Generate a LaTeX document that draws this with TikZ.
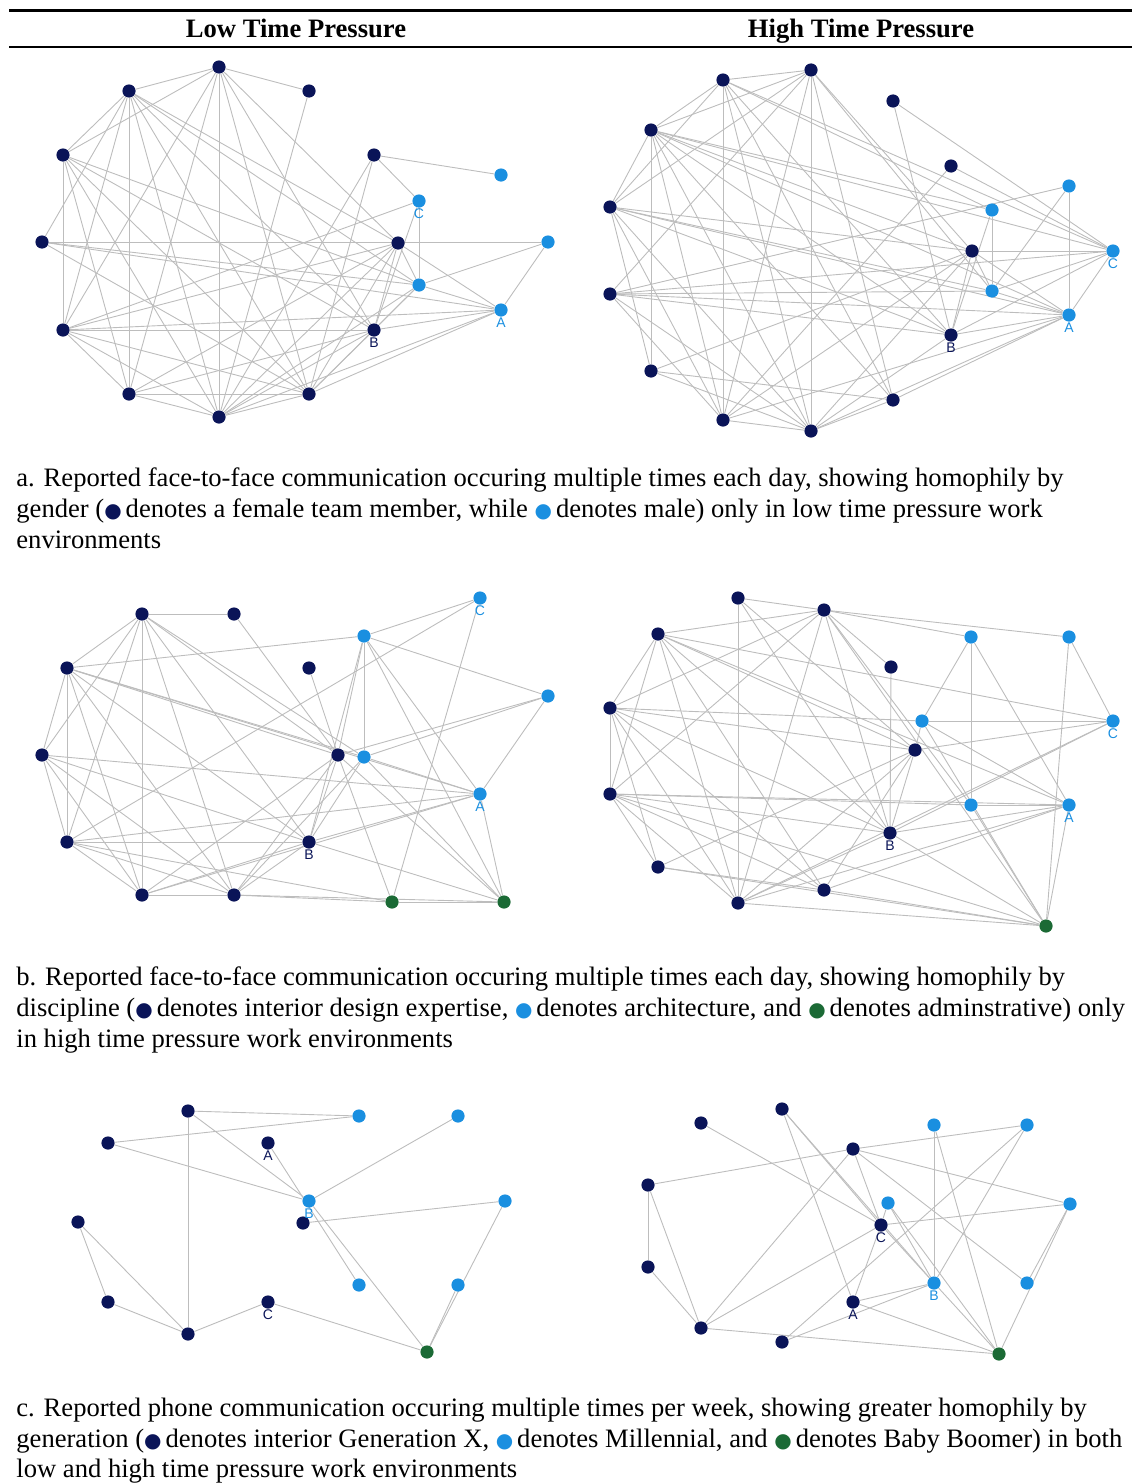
\documentclass[tikz,border=0pt]{standalone}
\usepackage{fontspec}
\setmainfont{Liberation Serif}
\newfontfamily\tagfont{Liberation Sans}
\newfontfamily\symfont{DejaVu Sans}
\usepackage{xcolor}
\usetikzlibrary{backgrounds}
\definecolor{navyc}{HTML}{0A1458}
\definecolor{skyc}{HTML}{1A8FE0}
\definecolor{greenc}{HTML}{1B6A35}
\definecolor{edgec}{HTML}{BDBDBD}
\newcommand{\dotmark}[1]{\makebox[7.4pt][l]{\textcolor{#1}{\symfont\fontsize{10}{10}\selectfont ●}}}
\tikzset{
  dnavy/.style={circle, fill=navyc, minimum size=6.6pt, inner sep=0pt},
  dsky/.style={circle, fill=skyc, minimum size=6.6pt, inner sep=0pt},
  dgreen/.style={circle, fill=greenc, minimum size=6.6pt, inner sep=0pt},
  dedge/.style={draw=edgec, line width=0.45pt},
  dtag/.style={font=\tagfont\fontsize{7}{7}\selectfont, inner sep=0.4pt},
  tagn/.style={label distance=0.4pt, label={[dtag, text=navyc]below:#1}},
  tags/.style={label distance=0.4pt, label={[dtag, text=skyc]below:#1}},
  dhead/.style={anchor=base, font=\bfseries\fontsize{13.3}{15}\selectfont, inner sep=0pt},
  dcap/.style={anchor=base west, inner sep=0pt, font=\fontsize{13.3}{15.5}\selectfont},
  drule/.style={line width=1.5pt},
  druleth/.style={line width=0.6pt}
}
\begin{document}
\begin{tikzpicture}[x=0.5pt,y=-0.5pt]
\useasboundingbox (0,0) rectangle (1132,1483);
% header
\draw[drule] (9,10) -- (1132,10);
\draw[druleth] (9,47) -- (1132,47);
\node[dhead] (lowhead) at (296,38) {Low Time Pressure};
\node[dhead] (highhead) at (861,38) {High Time Pressure};

% a, low
\node[dnavy] (aL-t) at (219,67) {};
\node[dnavy] (aL-ul) at (129,91) {};
\node[dnavy] (aL-ur) at (309,91) {};
\node[dnavy] (aL-l1) at (63,155) {};
\node[dnavy] (aL-r1) at (374,155) {};
\node[dsky] (aL-s6) at (501,175) {};
\node[dsky, tags=C] (aL-c) at (419,201) {};
\node[dnavy] (aL-l2) at (42,242) {};
\node[dnavy] (aL-m) at (398,243) {};
\node[dsky] (aL-s10) at (548,242) {};
\node[dsky] (aL-s11) at (419,285) {};
\node[dsky, tags=A] (aL-a) at (501,310) {};
\node[dnavy] (aL-l3) at (63,330) {};
\node[dnavy, tagn=B] (aL-b) at (374,330) {};
\node[dnavy] (aL-bl) at (129,394) {};
\node[dnavy] (aL-br) at (309,394) {};
\node[dnavy] (aL-bot) at (219,417) {};
\begin{scope}[on background layer]
\draw[dedge] (aL-t) -- (aL-ul);
\draw[dedge] (aL-t) -- (aL-ur);
\draw[dedge] (aL-t) -- (aL-l1);
\draw[dedge] (aL-t) -- (aL-l3);
\draw[dedge] (aL-t) -- (aL-bl);
\draw[dedge] (aL-t) -- (aL-bot);
\draw[dedge] (aL-t) -- (aL-br);
\draw[dedge] (aL-t) -- (aL-b);
\draw[dedge] (aL-t) -- (aL-m);
\draw[dedge] (aL-ur) -- (aL-bot);
\draw[dedge] (aL-ul) -- (aL-l1);
\draw[dedge] (aL-ul) -- (aL-l2);
\draw[dedge] (aL-ul) -- (aL-l3);
\draw[dedge] (aL-ul) -- (aL-bl);
\draw[dedge] (aL-ul) -- (aL-bot);
\draw[dedge] (aL-ul) -- (aL-br);
\draw[dedge] (aL-ul) -- (aL-b);
\draw[dedge] (aL-ul) -- (aL-m);
\draw[dedge] (aL-ul) -- (aL-s11);
\draw[dedge] (aL-l1) -- (aL-l3);
\draw[dedge] (aL-l1) -- (aL-bl);
\draw[dedge] (aL-l1) -- (aL-bot);
\draw[dedge] (aL-l1) -- (aL-br);
\draw[dedge] (aL-l1) -- (aL-b);
\draw[dedge] (aL-l1) -- (aL-s11);
\draw[dedge] (aL-l2) -- (aL-s10);
\draw[dedge] (aL-l2) -- (aL-s11);
\draw[dedge] (aL-l2) -- (aL-a);
\draw[dedge] (aL-l2) -- (aL-br);
\draw[dedge] (aL-l3) -- (aL-b);
\draw[dedge] (aL-l3) -- (aL-a);
\draw[dedge] (aL-l3) -- (aL-m);
\draw[dedge] (aL-l3) -- (aL-c);
\draw[dedge] (aL-l3) -- (aL-bl);
\draw[dedge] (aL-l3) -- (aL-bot);
\draw[dedge] (aL-l3) -- (aL-br);
\draw[dedge] (aL-bl) -- (aL-br);
\draw[dedge] (aL-bl) -- (aL-bot);
\draw[dedge] (aL-bl) -- (aL-m);
\draw[dedge] (aL-bl) -- (aL-b);
\draw[dedge] (aL-r1) -- (aL-bot);
\draw[dedge] (aL-r1) -- (aL-br);
\draw[dedge] (aL-r1) -- (aL-s6);
\draw[dedge] (aL-r1) -- (aL-c);
\draw[dedge] (aL-bot) -- (aL-br);
\draw[dedge] (aL-bot) -- (aL-m);
\draw[dedge] (aL-bot) -- (aL-s11);
\draw[dedge] (aL-bot) -- (aL-b);
\draw[dedge] (aL-bot) -- (aL-a);
\draw[dedge] (aL-br) -- (aL-m);
\draw[dedge] (aL-br) -- (aL-b);
\draw[dedge] (aL-br) -- (aL-a);
\draw[dedge] (aL-br) -- (aL-s11);
\draw[dedge] (aL-c) -- (aL-s11);
\draw[dedge] (aL-c) -- (aL-b);
\draw[dedge] (aL-m) -- (aL-a);
\draw[dedge] (aL-m) -- (aL-s11);
\draw[dedge] (aL-m) -- (aL-b);
\draw[dedge] (aL-s10) -- (aL-a);
\draw[dedge] (aL-s10) -- (aL-s11);
\draw[dedge] (aL-s11) -- (aL-a);
\draw[dedge] (aL-s11) -- (aL-b);
\draw[dedge] (aL-a) -- (aL-b);
\end{scope}

% a, high
\node[dnavy] (aR-n1) at (723,80) {};
\node[dnavy] (aR-n2) at (811,70) {};
\node[dnavy] (aR-n3) at (893,101) {};
\node[dnavy] (aR-n4) at (651,130) {};
\node[dnavy] (aR-n5) at (951,166) {};
\node[dsky] (aR-s1) at (1069,186) {};
\node[dsky] (aR-s2) at (992,210) {};
\node[dnavy] (aR-n6) at (610,207) {};
\node[dnavy] (aR-n7) at (972,251) {};
\node[dsky, tags=C] (aR-c) at (1113,251) {};
\node[dsky] (aR-s3) at (992,291) {};
\node[dnavy] (aR-n8) at (610,294) {};
\node[dsky, tags=A] (aR-a) at (1069,315) {};
\node[dnavy, tagn=B] (aR-b) at (951,335) {};
\node[dnavy] (aR-n9) at (651,371) {};
\node[dnavy] (aR-n10) at (893,400) {};
\node[dnavy] (aR-n11) at (723,420) {};
\node[dnavy] (aR-n12) at (811,431) {};
\begin{scope}[on background layer]
\draw[dedge] (aR-n1) -- (aR-n2);
\draw[dedge] (aR-n1) -- (aR-n4);
\draw[dedge] (aR-n1) -- (aR-n6);
\draw[dedge] (aR-n1) -- (aR-n11);
\draw[dedge] (aR-n1) -- (aR-c);
\draw[dedge] (aR-n1) -- (aR-b);
\draw[dedge] (aR-n1) -- (aR-n10);
\draw[dedge] (aR-n1) -- (aR-n12);
\draw[dedge] (aR-n1) -- (aR-s2);
\draw[dedge] (aR-n2) -- (aR-n4);
\draw[dedge] (aR-n2) -- (aR-n6);
\draw[dedge] (aR-n2) -- (aR-n8);
\draw[dedge] (aR-n2) -- (aR-n12);
\draw[dedge] (aR-n2) -- (aR-n11);
\draw[dedge] (aR-n2) -- (aR-n10);
\draw[dedge] (aR-n2) -- (aR-n7);
\draw[dedge] (aR-n2) -- (aR-s3);
\draw[dedge] (aR-n3) -- (aR-b);
\draw[dedge] (aR-n3) -- (aR-c);
\draw[dedge] (aR-n4) -- (aR-n6);
\draw[dedge] (aR-n4) -- (aR-n9);
\draw[dedge] (aR-n4) -- (aR-s2);
\draw[dedge] (aR-n4) -- (aR-c);
\draw[dedge] (aR-n4) -- (aR-b);
\draw[dedge] (aR-n4) -- (aR-n7);
\draw[dedge] (aR-n4) -- (aR-n10);
\draw[dedge] (aR-n4) -- (aR-n11);
\draw[dedge] (aR-n4) -- (aR-n12);
\draw[dedge] (aR-n4) -- (aR-a);
\draw[dedge] (aR-n5) -- (aR-c);
\draw[dedge] (aR-n5) -- (aR-n11);
\draw[dedge] (aR-n6) -- (aR-n9);
\draw[dedge] (aR-n6) -- (aR-a);
\draw[dedge] (aR-n6) -- (aR-b);
\draw[dedge] (aR-n6) -- (aR-n7);
\draw[dedge] (aR-n6) -- (aR-s3);
\draw[dedge] (aR-n6) -- (aR-n11);
\draw[dedge] (aR-n6) -- (aR-n12);
\draw[dedge] (aR-n7) -- (aR-c);
\draw[dedge] (aR-n7) -- (aR-s3);
\draw[dedge] (aR-n7) -- (aR-a);
\draw[dedge] (aR-n7) -- (aR-b);
\draw[dedge] (aR-n7) -- (aR-n11);
\draw[dedge] (aR-n7) -- (aR-n12);
\draw[dedge] (aR-n7) -- (aR-n9);
\draw[dedge] (aR-s1) -- (aR-a);
\draw[dedge] (aR-s1) -- (aR-s3);
\draw[dedge] (aR-s1) -- (aR-n8);
\draw[dedge] (aR-s2) -- (aR-s3);
\draw[dedge] (aR-s2) -- (aR-b);
\draw[dedge] (aR-c) -- (aR-s3);
\draw[dedge] (aR-c) -- (aR-a);
\draw[dedge] (aR-c) -- (aR-b);
\draw[dedge] (aR-c) -- (aR-n8);
\draw[dedge] (aR-s3) -- (aR-a);
\draw[dedge] (aR-s3) -- (aR-n8);
\draw[dedge] (aR-a) -- (aR-b);
\draw[dedge] (aR-a) -- (aR-n10);
\draw[dedge] (aR-a) -- (aR-n11);
\draw[dedge] (aR-a) -- (aR-n12);
\draw[dedge] (aR-a) -- (aR-n8);
\draw[dedge] (aR-b) -- (aR-n8);
\draw[dedge] (aR-b) -- (aR-n12);
\draw[dedge] (aR-n9) -- (aR-n10);
\draw[dedge] (aR-n9) -- (aR-n12);
\draw[dedge] (aR-n10) -- (aR-n12);
\draw[dedge] (aR-n11) -- (aR-n12);
\draw[dedge] (aR-n11) -- (aR-n8);
\draw[dedge] (aR-n12) -- (aR-n8);
\end{scope}

\node[dcap] (capA1) at (16,486) {a. Reported face-to-face communication occuring multiple times each day, showing homophily by};
\node[dcap] (capA2) at (16,517) {gender (\dotmark{navyc} denotes a female team member, while \dotmark{skyc} denotes male) only in low time pressure work};
\node[dcap] (capA3) at (16,548) {environments};

% b, low
\node[dnavy] (bL-k1) at (142,614) {};
\node[dnavy] (bL-k2) at (234,614) {};
\node[dsky, tags=C] (bL-c) at (480,598) {};
\node[dnavy] (bL-k3) at (67,668) {};
\node[dsky] (bL-s1) at (364,636) {};
\node[dnavy] (bL-k4) at (309,668) {};
\node[dsky] (bL-s2) at (548,696) {};
\node[dnavy] (bL-k5) at (42,755) {};
\node[dnavy] (bL-k6) at (338,755) {};
\node[dsky] (bL-s3) at (364,757) {};
\node[dsky, tags=A] (bL-a) at (480,794) {};
\node[dnavy] (bL-k7) at (67,842) {};
\node[dnavy, tagn=B] (bL-b) at (309,842) {};
\node[dnavy] (bL-k8) at (142,895) {};
\node[dnavy] (bL-k9) at (234,895) {};
\node[dgreen] (bL-g1) at (392,902) {};
\node[dgreen] (bL-g2) at (504,902) {};
\begin{scope}[on background layer]
\draw[dedge] (bL-k1) -- (bL-k2);
\draw[dedge] (bL-k1) -- (bL-k3);
\draw[dedge] (bL-k1) -- (bL-k5);
\draw[dedge] (bL-k1) -- (bL-k7);
\draw[dedge] (bL-k1) -- (bL-k8);
\draw[dedge] (bL-k1) -- (bL-k9);
\draw[dedge] (bL-k1) -- (bL-b);
\draw[dedge] (bL-k1) -- (bL-k6);
\draw[dedge] (bL-k1) -- (bL-s3);
\draw[dedge] (bL-k2) -- (bL-k6);
\draw[dedge] (bL-k3) -- (bL-s1);
\draw[dedge] (bL-k3) -- (bL-k5);
\draw[dedge] (bL-k3) -- (bL-k7);
\draw[dedge] (bL-k3) -- (bL-k8);
\draw[dedge] (bL-k3) -- (bL-k9);
\draw[dedge] (bL-k3) -- (bL-k6);
\draw[dedge] (bL-k3) -- (bL-s3);
\draw[dedge] (bL-k3) -- (bL-b);
\draw[dedge] (bL-k3) -- (bL-a);
\draw[dedge] (bL-k4) -- (bL-k6);
\draw[dedge] (bL-c) -- (bL-s1);
\draw[dedge] (bL-c) -- (bL-k7);
\draw[dedge] (bL-c) -- (bL-g1);
\draw[dedge] (bL-s1) -- (bL-s2);
\draw[dedge] (bL-s1) -- (bL-s3);
\draw[dedge] (bL-s1) -- (bL-k6);
\draw[dedge] (bL-s1) -- (bL-b);
\draw[dedge] (bL-s1) -- (bL-a);
\draw[dedge] (bL-s1) -- (bL-g2);
\draw[dedge] (bL-s2) -- (bL-k6);
\draw[dedge] (bL-s2) -- (bL-s3);
\draw[dedge] (bL-s2) -- (bL-a);
\draw[dedge] (bL-k5) -- (bL-k7);
\draw[dedge] (bL-k5) -- (bL-k8);
\draw[dedge] (bL-k5) -- (bL-k9);
\draw[dedge] (bL-k5) -- (bL-a);
\draw[dedge] (bL-k5) -- (bL-b);
\draw[dedge] (bL-k6) -- (bL-b);
\draw[dedge] (bL-k6) -- (bL-k9);
\draw[dedge] (bL-k6) -- (bL-k8);
\draw[dedge] (bL-k6) -- (bL-g1);
\draw[dedge] (bL-k6) -- (bL-g2);
\draw[dedge] (bL-s3) -- (bL-a);
\draw[dedge] (bL-s3) -- (bL-g2);
\draw[dedge] (bL-s3) -- (bL-b);
\draw[dedge] (bL-s3) -- (bL-k9);
\draw[dedge] (bL-a) -- (bL-k7);
\draw[dedge] (bL-a) -- (bL-b);
\draw[dedge] (bL-a) -- (bL-k8);
\draw[dedge] (bL-a) -- (bL-g2);
\draw[dedge] (bL-k7) -- (bL-b);
\draw[dedge] (bL-k7) -- (bL-k8);
\draw[dedge] (bL-k7) -- (bL-k9);
\draw[dedge] (bL-k7) -- (bL-g1);
\draw[dedge] (bL-b) -- (bL-k8);
\draw[dedge] (bL-b) -- (bL-k9);
\draw[dedge] (bL-b) -- (bL-g2);
\draw[dedge] (bL-k8) -- (bL-k9);
\draw[dedge] (bL-k9) -- (bL-g1);
\draw[dedge] (bL-k9) -- (bL-g2);
\draw[dedge] (bL-g1) -- (bL-g2);
\end{scope}

% b, high
\node[dnavy] (bR-q1) at (738,598) {};
\node[dnavy] (bR-q2) at (824,610) {};
\node[dnavy] (bR-q3) at (658,634) {};
\node[dsky] (bR-s1) at (971,637) {};
\node[dsky] (bR-s2) at (1069,637) {};
\node[dnavy] (bR-q4) at (891,667) {};
\node[dnavy] (bR-q5) at (610,708) {};
\node[dsky] (bR-s3) at (922,721) {};
\node[dsky, tags=C] (bR-c) at (1113,721) {};
\node[dnavy] (bR-q6) at (915,750) {};
\node[dnavy] (bR-q7) at (610,794) {};
\node[dsky] (bR-s4) at (971,805) {};
\node[dsky, tags=A] (bR-a) at (1069,805) {};
\node[dnavy, tagn=B] (bR-b) at (890,833) {};
\node[dnavy] (bR-q8) at (658,867) {};
\node[dnavy] (bR-q9) at (824,890) {};
\node[dnavy] (bR-q10) at (738,903) {};
\node[dgreen] (bR-g) at (1046,926) {};
\begin{scope}[on background layer]
\draw[dedge] (bR-q1) -- (bR-q2);
\draw[dedge] (bR-q1) -- (bR-q10);
\draw[dedge] (bR-q1) -- (bR-b);
\draw[dedge] (bR-q1) -- (bR-q6);
\draw[dedge] (bR-q2) -- (bR-q3);
\draw[dedge] (bR-q2) -- (bR-q5);
\draw[dedge] (bR-q2) -- (bR-q7);
\draw[dedge] (bR-q2) -- (bR-s1);
\draw[dedge] (bR-q2) -- (bR-s2);
\draw[dedge] (bR-q2) -- (bR-q4);
\draw[dedge] (bR-q2) -- (bR-b);
\draw[dedge] (bR-q2) -- (bR-q10);
\draw[dedge] (bR-q2) -- (bR-g);
\draw[dedge] (bR-q2) -- (bR-s4);
\draw[dedge] (bR-q3) -- (bR-q5);
\draw[dedge] (bR-q3) -- (bR-q7);
\draw[dedge] (bR-q3) -- (bR-q10);
\draw[dedge] (bR-q3) -- (bR-q9);
\draw[dedge] (bR-q3) -- (bR-b);
\draw[dedge] (bR-q3) -- (bR-c);
\draw[dedge] (bR-q3) -- (bR-q6);
\draw[dedge] (bR-q3) -- (bR-a);
\draw[dedge] (bR-q4) -- (bR-b);
\draw[dedge] (bR-s1) -- (bR-s3);
\draw[dedge] (bR-s1) -- (bR-s4);
\draw[dedge] (bR-s1) -- (bR-a);
\draw[dedge] (bR-s2) -- (bR-c);
\draw[dedge] (bR-s2) -- (bR-g);
\draw[dedge] (bR-s3) -- (bR-c);
\draw[dedge] (bR-s3) -- (bR-q6);
\draw[dedge] (bR-s3) -- (bR-g);
\draw[dedge] (bR-s3) -- (bR-a);
\draw[dedge] (bR-s3) -- (bR-q5);
\draw[dedge] (bR-c) -- (bR-q6);
\draw[dedge] (bR-c) -- (bR-b);
\draw[dedge] (bR-c) -- (bR-q10);
\draw[dedge] (bR-q5) -- (bR-q7);
\draw[dedge] (bR-q5) -- (bR-q8);
\draw[dedge] (bR-q5) -- (bR-q6);
\draw[dedge] (bR-q5) -- (bR-b);
\draw[dedge] (bR-q5) -- (bR-q9);
\draw[dedge] (bR-q5) -- (bR-q10);
\draw[dedge] (bR-q6) -- (bR-b);
\draw[dedge] (bR-q6) -- (bR-q9);
\draw[dedge] (bR-q6) -- (bR-q10);
\draw[dedge] (bR-q6) -- (bR-q8);
\draw[dedge] (bR-q7) -- (bR-q8);
\draw[dedge] (bR-q7) -- (bR-s4);
\draw[dedge] (bR-q7) -- (bR-a);
\draw[dedge] (bR-q7) -- (bR-b);
\draw[dedge] (bR-q7) -- (bR-g);
\draw[dedge] (bR-q7) -- (bR-q9);
\draw[dedge] (bR-q7) -- (bR-q10);
\draw[dedge] (bR-s4) -- (bR-a);
\draw[dedge] (bR-s4) -- (bR-g);
\draw[dedge] (bR-a) -- (bR-b);
\draw[dedge] (bR-a) -- (bR-q10);
\draw[dedge] (bR-a) -- (bR-q9);
\draw[dedge] (bR-a) -- (bR-g);
\draw[dedge] (bR-b) -- (bR-q10);
\draw[dedge] (bR-b) -- (bR-g);
\draw[dedge] (bR-q8) -- (bR-q9);
\draw[dedge] (bR-q8) -- (bR-g);
\draw[dedge] (bR-q9) -- (bR-g);
\draw[dedge] (bR-q10) -- (bR-g);
\end{scope}

\node[dcap] (capB1) at (16,985) {b. Reported face-to-face communication occuring multiple times each day, showing homophily by};
\node[dcap] (capB2) at (16,1016) {discipline (\dotmark{navyc} denotes interior design expertise, \dotmark{skyc} denotes architecture, and \dotmark{greenc} denotes adminstrative) only};
\node[dcap] (capB3) at (16,1047) {in high time pressure work environments};

% c, low
\node[dnavy] (cL-p1) at (188,1111) {};
\node[dsky] (cL-s1) at (359,1116) {};
\node[dsky] (cL-s2) at (458,1116) {};
\node[dnavy] (cL-p2) at (108,1143) {};
\node[dnavy, tagn=A] (cL-a) at (268,1143) {};
\node[dnavy] (cL-p4) at (303,1223) {};
\node[dsky, tags=B] (cL-b) at (309,1201) {};
\node[dsky] (cL-s3) at (505,1201) {};
\node[dnavy] (cL-p3) at (78,1222) {};
\node[dsky] (cL-s4) at (359,1285) {};
\node[dsky] (cL-s5) at (458,1285) {};
\node[dnavy] (cL-p5) at (108,1302) {};
\node[dnavy, tagn=C] (cL-c) at (268,1302) {};
\node[dnavy] (cL-p6) at (188,1334) {};
\node[dgreen] (cL-g) at (427,1352) {};
\begin{scope}[on background layer]
\draw[dedge] (cL-p1) -- (cL-s1);
\draw[dedge] (cL-p1) -- (cL-b);
\draw[dedge] (cL-p1) -- (cL-p6);
\draw[dedge] (cL-p2) -- (cL-s1);
\draw[dedge] (cL-p2) -- (cL-b);
\draw[dedge] (cL-a) -- (cL-s4);
\draw[dedge] (cL-b) -- (cL-s2);
\draw[dedge] (cL-b) -- (cL-g);
\draw[dedge] (cL-p4) -- (cL-s3);
\draw[dedge] (cL-s3) -- (cL-g);
\draw[dedge] (cL-s5) -- (cL-g);
\draw[dedge] (cL-p3) -- (cL-p5);
\draw[dedge] (cL-p3) -- (cL-p6);
\draw[dedge] (cL-p5) -- (cL-p6);
\draw[dedge] (cL-p6) -- (cL-c);
\draw[dedge] (cL-c) -- (cL-g);
\end{scope}

% c, high
\node[dnavy] (cR-r1) at (782,1109) {};
\node[dnavy] (cR-r2) at (701,1123) {};
\node[dsky] (cR-s1) at (934,1125) {};
\node[dsky] (cR-s2) at (1027,1125) {};
\node[dnavy] (cR-r3) at (853,1149) {};
\node[dnavy] (cR-r4) at (648,1185) {};
\node[dsky] (cR-s3) at (888,1203) {};
\node[dsky] (cR-s4) at (1070,1204) {};
\node[dnavy, tagn=C] (cR-c) at (881,1225) {};
\node[dnavy] (cR-r5) at (648,1267) {};
\node[dsky, tags=B] (cR-b) at (934,1283) {};
\node[dsky] (cR-s5) at (1027,1283) {};
\node[dnavy, tagn=A] (cR-a) at (853,1302) {};
\node[dnavy] (cR-r6) at (701,1328) {};
\node[dnavy] (cR-r7) at (782,1342) {};
\node[dgreen] (cR-g) at (999,1354) {};
\begin{scope}[on background layer]
\draw[dedge] (cR-r1) -- (cR-c);
\draw[dedge] (cR-r1) -- (cR-a);
\draw[dedge] (cR-r1) -- (cR-b);
\draw[dedge] (cR-r2) -- (cR-c);
\draw[dedge] (cR-r3) -- (cR-r4);
\draw[dedge] (cR-r3) -- (cR-s2);
\draw[dedge] (cR-r3) -- (cR-s4);
\draw[dedge] (cR-r3) -- (cR-r6);
\draw[dedge] (cR-r3) -- (cR-c);
\draw[dedge] (cR-r3) -- (cR-s5);
\draw[dedge] (cR-r4) -- (cR-r5);
\draw[dedge] (cR-r4) -- (cR-r6);
\draw[dedge] (cR-r5) -- (cR-r6);
\draw[dedge] (cR-r6) -- (cR-c);
\draw[dedge] (cR-r6) -- (cR-g);
\draw[dedge] (cR-r7) -- (cR-b);
\draw[dedge] (cR-r7) -- (cR-s2);
\draw[dedge] (cR-c) -- (cR-s3);
\draw[dedge] (cR-c) -- (cR-s4);
\draw[dedge] (cR-c) -- (cR-a);
\draw[dedge] (cR-c) -- (cR-b);
\draw[dedge] (cR-s3) -- (cR-b);
\draw[dedge] (cR-s3) -- (cR-g);
\draw[dedge] (cR-s1) -- (cR-b);
\draw[dedge] (cR-s1) -- (cR-g);
\draw[dedge] (cR-s2) -- (cR-b);
\draw[dedge] (cR-s4) -- (cR-s5);
\draw[dedge] (cR-s4) -- (cR-g);
\draw[dedge] (cR-a) -- (cR-b);
\draw[dedge] (cR-a) -- (cR-g);
\draw[dedge] (cR-b) -- (cR-g);
\end{scope}

\node[dcap] (capC1) at (16,1416) {c. Reported phone communication occuring multiple times per week, showing greater homophily by};
\node[dcap] (capC2) at (16,1447) {generation (\dotmark{navyc} denotes interior Generation X, \dotmark{skyc} denotes Millennial, and \dotmark{greenc} denotes Baby Boomer) in both};
\node[dcap] (capC3) at (16,1477) {low and high time pressure work environments};
\end{tikzpicture}
\end{document}
